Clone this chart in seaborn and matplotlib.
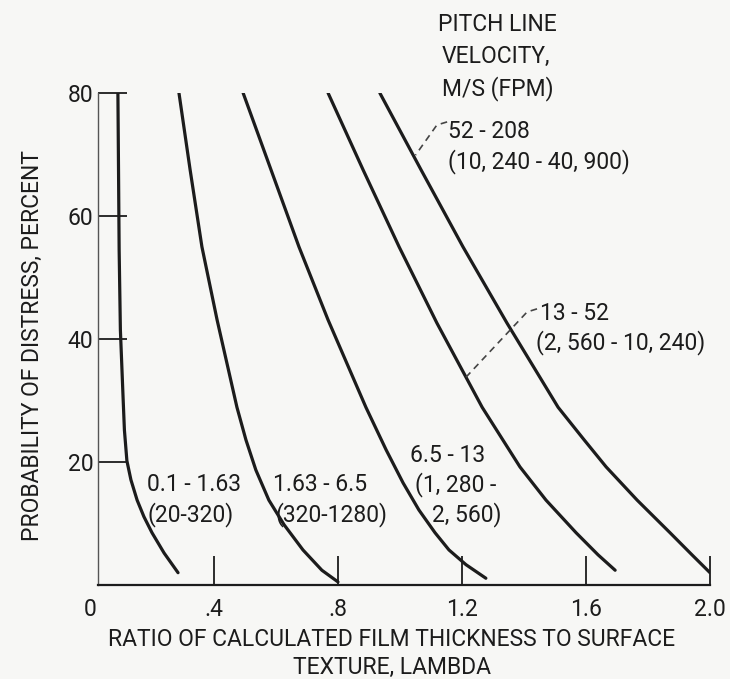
import numpy as np
import pandas as pd
import matplotlib
matplotlib.use("Agg")
import matplotlib.pyplot as plt
import seaborn as sns

# ---------------- data ----------------
curve_names = ["0.1-1.63", "1.63-6.5", "6.5-13", "13-52", "52-208"]

c1_x = [0.090, 0.092, 0.094, 0.098, 0.107, 0.111, 0.119, 0.132, 0.152, 0.174,
        0.200, 0.239, 0.284]
c1_y = [80, 67.5, 54.5, 41.5, 30.1, 25.2, 20.2, 17.1, 13.8, 11.1, 8.5, 5.2, 2.0]

c2_x = [0.287, 0.323, 0.361, 0.410, 0.474, 0.503, 0.535, 0.577, 0.626, 0.687,
        0.748, 0.800]
c2_y = [80, 67.5, 55, 43.1, 28.9, 23.6, 18.7, 13.8, 9.8, 5.7, 2.4, 0.5]

c3_x = [0.494, 0.584, 0.674, 0.768, 0.890, 0.955, 1.010, 1.061, 1.113, 1.158,
        1.213, 1.277]
c3_y = [80, 67.5, 55, 43.1, 28.9, 22.0, 16.6, 12.2, 8.5, 5.7, 3.3, 1.1]

c4_x = [0.768, 0.881, 0.997, 1.119, 1.265, 1.387, 1.471, 1.568, 1.639, 1.694]
c4_y = [80, 67.5, 55, 42.6, 28.9, 19.2, 13.8, 8.5, 4.9, 2.4]

c5_x = [0.935, 1.068, 1.203, 1.345, 1.510, 1.594, 1.665, 1.765, 1.871, 1.942,
        2.000]
c5_y = [80, 67.5, 55, 42.6, 28.9, 23.6, 19.2, 13.8, 8.5, 4.9, 2.0]

x_ticks = [0.0, 0.4, 0.8, 1.2, 1.6, 2.0]
x_tick_labels = ["0", ".4", ".8", "1.2", "1.6", "2.0"]
y_ticks = [20, 40, 60, 80]
y_tick_labels = ["20", "40", "60", "80"]

# curve annotations: (text, x, y)
curve_labels = [
    ("0.1 - 1.63", 0.184, 16.3), ("(20-320)", 0.184, 11.4),
    ("1.63 - 6.5", 0.590, 16.3), ("(320-1280)", 0.597, 11.4),
    ("6.5 - 13", 1.032, 21.1), ("(1, 280 -", 1.048, 16.3), ("2, 560)", 1.103, 11.4),
    ("13 - 52", 1.452, 44.2), ("(2, 560 - 10, 240)", 1.440, 39.5),
    ("52 - 208", 1.155, 73.8), ("(10, 240 - 40, 900)", 1.155, 68.9),
    ("PITCH LINE", 1.123, 91.2), ("VELOCITY,", 1.135, 85.9), ("M/S (FPM)", 1.135, 80.7),
]
leader4_x = [1.442, 1.410, 1.213]
leader4_y = [44.9, 44.4, 33.8]
leader5_x = [1.152, 1.119, 1.050]
leader5_y = [75.3, 74.8, 69.9]

x_label = "RATIO OF CALCULATED FILM THICKNESS TO SURFACE\nTEXTURE, LAMBDA"
y_label = "PROBABILITY OF DISTRESS, PERCENT"

# ---------------- build table ----------------
frames = []
for name, xs, ys in zip(curve_names,
                        [c1_x, c2_x, c3_x, c4_x, c5_x],
                        [c1_y, c2_y, c3_y, c4_y, c5_y]):
    frames.append(pd.DataFrame({"lambda": xs, "prob": ys, "speed": name}))
df = pd.concat(frames, ignore_index=True)

# ---------------- style ----------------
sns.set_theme(style="white")
plt.rcParams["font.family"] = ["Roboto", "DejaVu Sans"]
INK = "#1c1c1c"
BG = "#f7f7f5"
FS = 16.5

fig = plt.figure(figsize=(7.3, 6.79), dpi=100, facecolor=BG)
ax = fig.add_axes([90 / 730, (679 - 585) / 679, 620 / 730, 492 / 679])
ax.set_facecolor(BG)

sns.lineplot(data=df, x="lambda", y="prob", hue="speed", units="speed",
             estimator=None, sort=False, palette=[INK] * 5, linewidth=2.3,
             legend=False, ax=ax)
for ln in ax.lines:
    ln.set_solid_joinstyle("round")
    ln.set_solid_capstyle("round")

ax.plot(leader4_x, leader4_y, color="#444444", lw=1.2, ls=(0, (4, 3)))
ax.plot(leader5_x, leader5_y, color="#444444", lw=1.2, ls=(0, (4, 3)))

for txt, x, y in curve_labels:
    ax.text(x, y, txt, ha="left", va="center", fontsize=FS, color=INK,
            clip_on=False)

ax.set_xlim(0, 2.0)
ax.set_ylim(0, 80)
for s in ["top", "right"]:
    ax.spines[s].set_visible(False)
ax.spines["left"].set_position(("data", 0.026))
ax.spines["bottom"].set_bounds(0.026, 2.0)
ax.spines["left"].set_color("#555555")
ax.spines["left"].set_linewidth(1.0)
ax.spines["bottom"].set_color(INK)
ax.spines["bottom"].set_linewidth(1.6)

ax.set_xticks(x_ticks)
ax.set_xticklabels(x_tick_labels)
ax.set_yticks(y_ticks)
ax.set_yticklabels(y_tick_labels)
ax.tick_params(axis="x", bottom=True, direction="in", length=21, width=1.3,
               color=INK, pad=9, labelsize=FS, labelcolor=INK)
ax.tick_params(axis="y", left=True, direction="in", length=21, width=1.3,
               color=INK, pad=3.5, labelsize=FS, labelcolor=INK)
ax.xaxis.get_major_ticks()[0].tick1line.set_visible(False)

ax.set_xlabel(x_label, fontsize=FS, color=INK, linespacing=1.3)
ax.xaxis.set_label_coords(0.487, -0.087)
ax.xaxis.label.set_va("top")
ax.set_ylabel(y_label, fontsize=FS, color=INK)
ax.yaxis.set_label_coords(-0.092, 0.486)
ax.yaxis.label.set_va("center")

fig.savefig("out.png", dpi=100, facecolor=BG)
